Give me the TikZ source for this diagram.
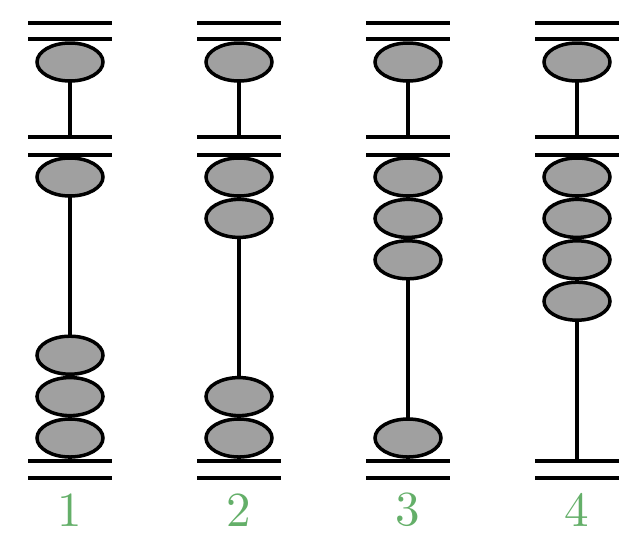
\documentclass[tikz,border=0pt]{standalone}
\usetikzlibrary{shapes.geometric}
\begin{document}
\begin{tikzpicture}[x=1pt,y=-1pt,
  beam/.style={line width=4pt},
  rod/.style={line width=3.5pt, draw=black},
  bead/.style={ellipse, draw=black, line width=3.5pt, fill=beadgray, minimum width=66pt, minimum height=38pt, inner sep=0pt},
  digit/.style={text=labelgreen, scale=4.9}]
\definecolor{beadgray}{RGB}{160,160,160}
\definecolor{labelgreen}{RGB}{100,175,105}
\useasboundingbox (0,0) rectangle (644,546);
\foreach \i/\cx/\up/\lo in {1/70/1/3, 2/239/2/2, 3/408/3/1, 4/577/4/0} {
  % beams
  \foreach \yy [count=\k] in {22.5,39,137.3,154.7,461,477.7} {
    \coordinate (b\i-\k-l) at (\cx-42,\yy);
    \coordinate (b\i-\k-r) at (\cx+42,\yy);
    \draw[beam] (b\i-\k-l) -- (b\i-\k-r);
  }
  % rods
  \coordinate (r\i-a) at (\cx,62);
  \coordinate (r\i-b) at (\cx,137.3);
  \coordinate (r\i-c) at (\cx,156);
  \coordinate (r\i-d) at (\cx,461);
  \draw[rod] (r\i-a) -- (r\i-b);
  \draw[rod] (r\i-c) -- (r\i-d);
  % heaven bead
  \node[bead] (h\i) at (r\i-a) {};
  % upper earth beads
  \foreach \n in {1,...,\up} {
    \node[bead] (u\i-\n) at (\cx,{177+41.4*(\n-1)}) {};
  }
  % lower earth beads
  \ifnum\lo>0
    \foreach \n in {1,...,\lo} {
      \node[bead] (l\i-\n) at (\cx,{438-41.4*(\n-1)}) {};
    }
  \fi
  \node[digit] (d\i) at (\cx,510) {\i};
}
\end{tikzpicture}
\end{document}
